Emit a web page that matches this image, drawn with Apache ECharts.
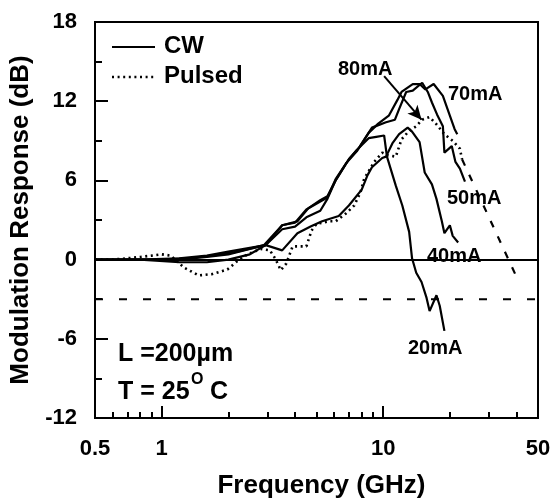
<!DOCTYPE html>
<html><head><meta charset="utf-8">
<script src="https://cdn.jsdelivr.net/npm/echarts@6/dist/echarts.min.js"></script>
<style>html,body{margin:0;padding:0;background:#fff}#c{width:555px;height:504px}</style>
</head><body><div id="c"></div>
<script>
const FONT = '"Liberation Sans", Arial, Helvetica, sans-serif';

// axis ticks
const xMin = 0.5, xMax = 50;
const yMin = -12, yMax = 18, yStep = 6;
const majorXTicks = [1, 10];
const minorXTicks = [0.6, 0.7, 0.8, 0.9, 2, 3, 4, 5, 6, 7, 8, 9, 20, 30, 40];

// CW 20 mA
const f20 = [0.5, 0.7, 1.0, 1.3, 1.7, 2.2, 2.9, 3.5, 4.1, 4.6, 5.2, 5.6, 6.1, 7.0, 7.6, 8.6, 9.3, 10.1, 10.4, 11.4, 12.2, 13.1, 13.5, 14.1, 14.9, 15.7, 16.2, 17.4, 18.0, 18.9];
const v20 = [0, 0, 0, 0.1, 0.3, 0.6, 1.1, 2.6, 2.9, 3.9, 4.5, 4.8, 6.0, 7.6, 8.3, 9.2, 9.3, 9.4, 7.8, 5.6, 4.1, 2.1, 0.1, -1.0, -1.7, -2.9, -3.9, -2.7, -3.5, -5.4];
// CW 40 mA
const f40 = [0.5, 0.8, 1.2, 1.6, 2.0, 2.5, 2.95, 3.5, 4.1, 4.7, 5.3, 6.3, 7.0, 8.0, 8.5, 8.9, 9.9, 10.3, 11.0, 11.8, 12.9, 13.5, 14.6, 15.4, 16.6, 17.4, 18.4, 18.9, 20.0, 20.6, 21.8];
const v40 = [0, 0, -0.2, -0.2, 0, 0.4, 1.1, 0.7, 2.0, 2.5, 2.9, 3.3, 4.1, 5.3, 6.4, 7.0, 7.7, 7.8, 8.8, 9.5, 10.0, 9.7, 8.9, 6.6, 5.7, 4.6, 2.9, 2.0, 2.6, 1.8, 1.3];
// CW 50 mA
const f50 = [0.5, 0.8, 1.2, 1.6, 2.0, 2.5, 2.95, 3.5, 4.0, 4.5, 5.2, 5.6, 6.1, 7.0, 7.8, 8.9, 10.3, 11.3, 11.8, 12.7, 13.6, 15.0, 15.9, 16.6, 17.5, 18.6, 18.9, 20.4, 21.2, 22.2, 23.4];
const v50 = [0, 0, 0.1, 0.3, 0.6, 0.9, 1.1, 2.3, 2.5, 3.2, 3.7, 4.6, 6.0, 7.6, 8.5, 10.0, 10.4, 10.6, 11.4, 12.7, 12.8, 13.4, 12.7, 11.9, 11.0, 10.1, 8.1, 8.6, 7.4, 6.9, 5.9];
// CW 70 mA
const f70 = [0.5, 0.8, 1.2, 1.6, 2.0, 2.5, 2.95, 3.5, 4.0, 4.5, 5.2, 5.6, 6.1, 6.8, 7.6, 8.6, 9.5, 10.6, 11.6, 12.1, 13.6, 14.6, 15.5, 16.9, 18.6, 20.0, 21.0, 21.6];
const v70 = [0, 0, 0, 0.2, 0.4, 0.8, 1.1, 2.6, 2.8, 3.8, 4.4, 4.7, 6.1, 7.3, 8.2, 9.6, 10.3, 10.9, 12.1, 12.7, 13.3, 13.3, 12.9, 13.3, 12.4, 10.9, 9.9, 9.5];
// Pulsed 80 mA (measured, dotted)
const fP = [0.5, 0.6, 0.7, 0.8, 0.9, 1.0, 1.1, 1.26, 1.47, 1.69, 1.98, 2.2, 2.44, 2.8, 3.08, 3.25, 3.45, 3.65, 3.9, 4.5, 4.75, 5.0, 5.66, 6.1, 6.8, 7.4, 7.9, 8.2, 8.6, 9.1, 9.9, 10.5, 11.4, 12.1, 13.0, 14.1, 15.0, 16.2, 17.4, 18.9, 20.6, 22.2, 22.7];
const vP = [0, 0, 0.1, 0.2, 0.3, 0.4, 0.3, -0.6, -1.2, -1.1, -0.75, -0.1, 0.4, 0.8, 0.7, 0.1, -0.8, -0.3, 1.0, 1.0, 2.2, 2.7, 2.9, 2.9, 3.5, 4.1, 5.1, 6.1, 6.7, 7.4, 8.1, 7.9, 7.8, 9.1, 9.7, 10.1, 10.6, 10.8, 10.25, 9.5, 9.0, 8.4, 7.6];
// Pulsed extrapolation (dashed)
const fExt = [22.7, 41];
const vExt = [7.6, -1.7];
// -3 dB reference
const f3dB = [0.5, 50];
const v3dB = [-3, -3];
// arrow from "80mA" label to pulsed peak
const arrowFrom = [10.1, 13.9];
const arrowTo = [14.9, 10.6];

const zip = (a, b) => a.map((x, i) => [x, b[i]]);

const solid = { color: '#000', width: 2.2, type: 'solid' };
function cw(name, f, v) {
  return { name, type: 'line', data: zip(f, v), showSymbol: false, symbol: 'none',
    lineStyle: solid, z: 3 };
}

const txt = (text, left, top, size) => ({ type: 'text', left, top,
  style: { text, font: 'bold ' + size + 'px ' + FONT, fill: '#000' } });

// grid geometry (pixels)
const G = { left: 95, right: 17, top: 22, bottom: 84 };
const plotH = 504 - G.top - G.bottom;
const dBperPx = (yMax - yMin) / plotH;
// x-tick marks drawn in data space, rising from the bottom axis
const xTickMarks = majorXTicks.map(t => [{ coord: [t, yMin] }, { coord: [t, yMin + 12 * dBperPx] }])
  .concat(minorXTicks.map(t => [{ coord: [t, yMin] }, { coord: [t, yMin + 6 * dBperPx] }]));

const chart = echarts.init(document.getElementById('c'), null, { renderer: 'canvas' });
chart.setOption({
  animation: false,
  backgroundColor: '#fff',
  grid: { left: G.left, right: G.right, top: G.top, bottom: G.bottom, show: true, borderColor: '#000', borderWidth: 2 },
  xAxis: {
    type: 'log', logBase: 10, min: xMin, max: xMax,
    name: 'Frequency (GHz)', nameLocation: 'middle', nameGap: 55,
    nameTextStyle: { fontFamily: FONT, fontSize: 26, fontWeight: 'bold', color: '#000', padding: [0, 0, 0, 10] },
    axisLine: { show: true, lineStyle: { color: '#000', width: 2 } },
    axisTick: { show: false },
    axisLabel: { show: true, margin: 20, showMinLabel: true, showMaxLabel: true,
      fontFamily: FONT, fontSize: 22, fontWeight: 'bold', color: '#000' },
    splitLine: { show: false }, minorTick: { show: false }, minorSplitLine: { show: false }
  },
  yAxis: {
    type: 'value', min: yMin, max: yMax, interval: yStep,
    name: 'Modulation Response (dB)', nameLocation: 'middle', nameGap: 60,
    nameTextStyle: { fontFamily: FONT, fontSize: 26, fontWeight: 'bold', color: '#000' },
    axisLine: { show: true, lineStyle: { color: '#000', width: 2 } },
    axisTick: { show: true, inside: true, length: 13, lineStyle: { color: '#000', width: 2 } },
    minorTick: { show: true, splitNumber: 2, length: 7, lineStyle: { color: '#000', width: 2 } },
    axisLabel: { margin: 18, fontFamily: FONT, fontSize: 22, fontWeight: 'bold', color: '#000' },
    splitLine: { show: false }, minorSplitLine: { show: false }
  },
  series: [
    cw('20mA', f20, v20),
    cw('40mA', f40, v40),
    cw('50mA', f50, v50),
    cw('70mA', f70, v70),
    { name: 'Pulsed', type: 'line', data: zip(fP, vP), symbol: 'none',
      lineStyle: { color: '#000', width: 2.6, type: [2, 3.6] }, z: 2,
      markLine: { silent: true, symbol: ['none', 'arrow'], symbolSize: [10, 14],
        label: { show: false },
        lineStyle: { color: '#000', width: 2, type: 'solid' },
        data: [[{ coord: arrowFrom }, { coord: arrowTo }]] } },
    { name: 'ext', type: 'line', data: zip(fExt, vExt), symbol: 'none',
      lineStyle: { color: '#000', width: 2.2, type: [7, 10] } },
    { name: '3dB', type: 'line', data: zip(f3dB, v3dB), symbol: 'none',
      lineStyle: { color: '#000', width: 2, type: [8, 16] },
      markLine: { silent: true, symbol: ['none', 'none'], label: { show: false },
        lineStyle: { color: '#000', width: 2, type: 'solid', opacity: 1 },
        data: xTickMarks } }
  ],
  graphic: [
    { type: 'line', shape: { x1: 112, y1: 47, x2: 155, y2: 47 }, style: { stroke: '#000', lineWidth: 2.2 } },
    { type: 'line', shape: { x1: 112, y1: 77, x2: 155, y2: 77 }, style: { stroke: '#000', lineWidth: 2.6, lineDash: [2, 3.6] } },
    txt('CW', 164, 34, 24),
    txt('Pulsed', 164, 64, 24),
    txt('80mA', 338, 59, 20),
    txt('70mA', 448, 84, 20),
    txt('50mA', 447, 188, 20),
    txt('40mA', 427, 246, 20),
    txt('20mA', 408, 338, 20),
    txt('L =200\u00b5m', 118, 342, 25),
    txt('T = 25', 118, 380, 25),
    txt('O', 191, 372, 16),
    txt('C', 210, 380, 25)
  ]
});
</script></body></html>
